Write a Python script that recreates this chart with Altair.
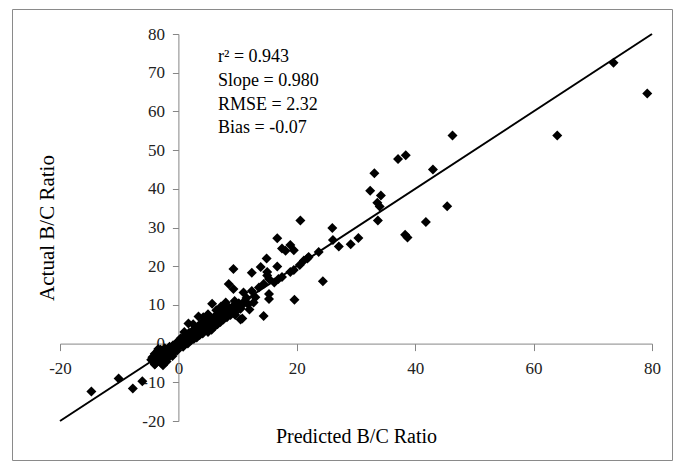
import altair as alt
import pandas as pd

# ---- data ----
pred_outer = [73.5, 79.2, 64.0, 46.3, 38.4, 37.1, 43.0, 33.1, 32.4, 34.2,
              33.6, 34.0, 33.7, 45.4, 41.8, 38.3, 38.7, 30.4, 26.0, 26.1,
              27.1, 29.1, 24.4, 20.6, -14.7, -10.1, -7.7, -6.1]
act_outer = [72.6, 64.6, 53.8, 53.8, 48.7, 47.7, 45.0, 44.0, 39.5, 38.3,
             36.4, 35.4, 31.8, 35.5, 31.4, 28.1, 27.4, 27.3, 29.9, 26.8,
             25.1, 25.7, 16.1, 31.8, -12.4, -9.0, -11.6, -9.7]

pred_mid = [16.7, 17.5, 18.1, 18.9, 19.5, 22.0, 23.7, 21.2, 14.9, 9.3,
            12.4, 13.9, 15.0, 16.7, 15.3, 16.9, 18.9, 8.5, 9.3, 11.0,
            12.4, 13.6, 14.4, 15.3, 15.3, 12.7, 19.6, 14.4, 10.5, 5.7,
            15.0, 17.5, 19.5, 20.5, 11.5, 13.0, 10.0, 9.5, 11.8, 12.0,
            9.0, 8.0, 21.8, 16.2]
act_mid = [27.2, 24.6, 24.0, 25.5, 24.1, 22.4, 23.7, 21.5, 22.0, 19.3,
           18.3, 19.8, 18.5, 19.9, 16.7, 16.7, 18.5, 15.4, 14.1, 13.2,
           13.6, 14.5, 15.4, 12.8, 11.5, 10.6, 11.3, 7.1, 6.2, 10.3,
           17.6, 17.2, 19.0, 20.3, 11.8, 12.0, 9.5, 11.0, 10.2, 8.8,
           8.5, 9.0, 22.0, 15.8]

pred_core = [-4.4, -4.2, -4.0, -3.9, -3.7, -3.5, -3.3, -3.2, -3.0, -2.9,
             -2.8, -2.6, -2.5, -2.3, -2.2, -2.0, -1.9, -1.7, -1.5, -1.4,
             -1.2, -1.0, -0.9, -0.7, -0.5, -0.3, -0.2, 0.0, 0.1, 0.3,
             0.4, 0.6, 0.8, 0.9, 1.1, 1.3, 1.4, 1.6, 1.8, 1.9,
             2.1, 2.3, 2.4, 2.6, 2.8, 2.9, 3.1, 3.3, 3.4, 3.6,
             3.8, 3.9, 4.1, 4.3, 4.4, 4.6, 4.8, 5.0, 5.1, 5.3,
             5.5, 5.6, 5.8, 6.0, 6.1, 6.3, 6.5, 6.6, 6.8, 7.0,
             7.1, 7.3, 7.5, 7.6, 7.8, 8.0, 8.2, 8.4, 8.6, 8.8,
             9.0, 9.3, 9.5, 9.8, 10.2, 10.5, 10.8, 11.2,
             1.0, 1.7, 2.5, 3.4, 4.2, 5.0, 6.4, 7.2, 8.0,
             9.1, 10.4, 9.6, 10.8, -4.6, -4.0, -3.4, -2.6]
act_core = [-3.5, -4.6, -2.6, -5.2, -3.8, -2.0, -4.4, -3.0, -1.6, -5.0,
            -3.6, -2.4, -4.2, -1.2, -3.0, -4.6, -2.0, -3.6, -0.8, -2.6,
            -1.6, -3.2, -0.4, -2.2, -1.0, 0.2, -1.8, -0.6, 0.8, -0.2,
            1.4, 0.4, -0.8, 1.6, 0.6, 2.2, 1.0, 0.0, 2.8, 1.6,
            0.8, 3.2, 2.0, 1.2, 3.6, 2.4, 1.6, 4.4, 3.0, 2.2,
            5.2, 3.6, 2.6, 4.6, 3.4, 5.8, 4.0, 3.0, 5.4, 4.4,
            6.4, 3.6, 5.0, 6.8, 4.4, 5.8, 7.4, 5.0, 6.4, 8.0,
            5.6, 7.0, 8.4, 6.2, 7.6, 8.8, 6.8, 8.2, 9.2, 7.4,
            8.6, 9.8, 8.0, 9.2, 10.4, 9.0, 10.0, 11.0,
            3.0, 5.2, 5.0, 7.0, 6.8, 7.6, 8.6, 9.6, 10.6,
            8.7, 9.1, 7.4, 6.5, -4.2, -5.4, -1.4, -5.6]

line_x = [-20, 80]
line_y = [-20, 80]

stats_lines = ["r\u00b2 = 0.943", "Slope = 0.980", "RMSE = 2.32", "Bias = -0.07"]

x_ticks = [-20, 0, 20, 40, 60, 80]
y_ticks = [-20, -10, 0, 10, 20, 30, 40, 50, 60, 70, 80]
x_domain = [-20, 80]
y_domain = [-20, 80]

x_title = "Predicted B/C Ratio"
y_title = "Actual B/C Ratio"

# ---- build tables ----
pts_df = pd.DataFrame({
    "predicted": pred_outer + pred_mid + pred_core,
    "actual": act_outer + act_mid + act_core,
})
line_df = pd.DataFrame({"predicted": line_x, "actual": line_y})
text_df = pd.DataFrame({"txt": ["\n".join(stats_lines)]})
frame_df = pd.DataFrame({"k": [0]})

W, H = 592, 387
SERIF = "Liberation Serif"
AX = "#868686"
LABEL_EXPR = "'' + datum.value"

x_enc = alt.X(
    "predicted:Q",
    scale=alt.Scale(domain=x_domain, nice=False, zero=False),
    axis=alt.Axis(
        values=x_ticks, offset=-0.2 * H, grid=False,
        domainColor=AX, tickColor=AX, tickSize=7, domainWidth=1, tickWidth=1,
        labelFont=SERIF, labelFontSize=17, labelColor="#222222", labelPadding=10,
        labelFlush=False, labelOverlap=False, labelExpr=LABEL_EXPR,
        title=x_title, titleFont=SERIF, titleFontSize=20, titleFontWeight="normal",
        titleColor="#000000", titleX=W / 2, titleY=99, titleBaseline="alphabetic",
        titleAlign="center",
    ),
)
y_enc = alt.Y(
    "actual:Q",
    scale=alt.Scale(domain=y_domain, nice=False, zero=False),
    axis=alt.Axis(
        values=y_ticks, offset=-0.2 * W, grid=False,
        domainColor=AX, tickColor=AX, tickSize=6, domainWidth=1, tickWidth=1,
        labelFont=SERIF, labelFontSize=17, labelColor="#222222", labelPadding=8,
        labelFlush=False, labelOverlap=False, labelExpr=LABEL_EXPR,
        title=y_title, titleFont=SERIF, titleFontSize=21, titleFontWeight="normal",
        titleColor="#000000", titleX=-130.5, titleY=H / 2, titleBaseline="middle",
        titleAlign="center",
    ),
)

frame = alt.Chart(frame_df).mark_rect(
    fill=None, fillOpacity=0, stroke="#8a8a8a", strokeWidth=1
).encode(
    x=alt.value(-47.5), x2=alt.value(612.5), y=alt.value(-24.5), y2=alt.value(426.5)
)

points = alt.Chart(pts_df).mark_point(
    shape="diamond", filled=True, size=100, color="#000000", opacity=1
).encode(x=x_enc, y=y_enc)

line = alt.Chart(line_df).mark_line(color="#000000", strokeWidth=2).encode(x=x_enc, y=y_enc)

stats = alt.Chart(text_df).mark_text(
    align="left", baseline="alphabetic", font=SERIF, fontSize=18,
    lineBreak="\n", lineHeight=23.7, color="#000000"
).encode(text="txt:N", x=alt.value(158), y=alt.value(28.3))

chart = alt.layer(frame, points, line, stats).properties(
    width=W, height=H,
    autosize=alt.AutoSizeParams(type="none"),
    padding={"left": 52, "top": 26, "right": 22, "bottom": 41},
    background="#ffffff",
).configure_view(stroke=None)

chart.save("out.html", embed_options={"renderer": "svg", "actions": False})
